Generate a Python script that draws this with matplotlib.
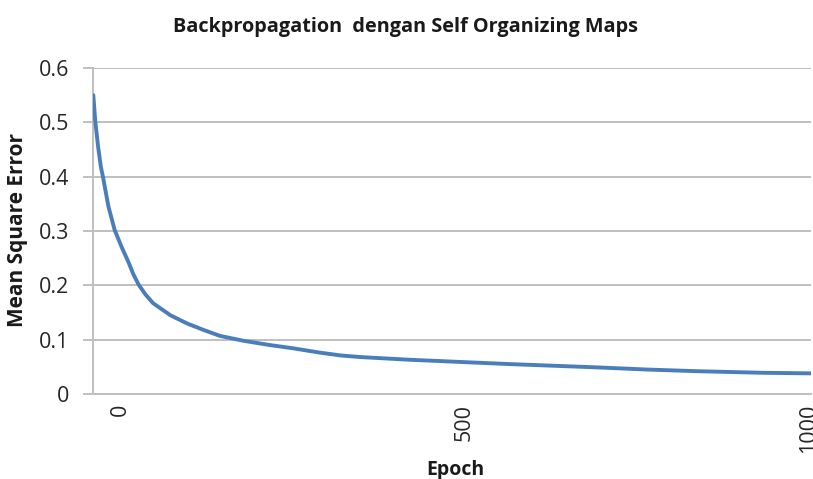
import matplotlib
matplotlib.use("Agg")
import matplotlib.pyplot as plt

plt.rcParams['font.family'] = ['Open Sans', 'DejaVu Sans']

epochs = [-39, -37, -36, -32, -28, -25, -17, -8, 2, 12, 19, 27, 37, 48, 73, 97,
          121, 145, 179, 218, 252, 291, 320, 349, 421, 494, 567, 693, 766,
          838, 935, 1004]
mse = [0.550, 0.517, 0.500, 0.455, 0.418, 0.400, 0.345, 0.302, 0.271, 0.243,
       0.221, 0.201, 0.183, 0.167, 0.145, 0.130, 0.118, 0.107, 0.098, 0.090,
       0.084, 0.076, 0.071, 0.068, 0.063, 0.059, 0.055, 0.049, 0.045, 0.042,
       0.039, 0.038]

x_ticks = [0, 500, 1000]
x_tick_labels = ["0", "500", "1000"]
y_ticks = [0, 0.1, 0.2, 0.3, 0.4, 0.5, 0.6]
y_tick_labels = ["0", "0.1", "0.2", "0.3", "0.4", "0.5", "0.6"]

title = "Backpropagation  dengan Self Organizing Maps"
xlabel = "Epoch"
ylabel = "Mean Square Error"

fig = plt.figure(figsize=(8.13, 4.79), dpi=100)
ax = fig.add_axes([93.3 / 813, 1 - 394 / 479, (811 - 93.3) / 813, (394 - 68) / 479])

ax.plot(epochs, mse, color="#4A7EBB", linewidth=2.8, solid_capstyle="round",
        solid_joinstyle="round", zorder=3)

ax.set_xlim(-39, 1004)
ax.set_ylim(0, 0.6)

ax.set_yticks(y_ticks)
ax.set_yticklabels(y_tick_labels)
ax.set_xticks(x_ticks)
ax.set_xticklabels(x_tick_labels, rotation=90)

grid_color = "#BFBFBF"
ax.yaxis.grid(True, color=grid_color, linewidth=1.4, zorder=0)
ax.xaxis.grid(False)
for side in ["top", "right"]:
    ax.spines[side].set_visible(False)
for side in ["left", "bottom"]:
    ax.spines[side].set_color(grid_color)
    ax.spines[side].set_linewidth(1.4)

ax.tick_params(axis="y", direction="out", length=7, width=1.4, color=grid_color,
               labelsize=15.5, labelcolor="#262626", pad=10.5)
ax.tick_params(axis="x", length=0, labelsize=15.5, labelcolor="#262626", pad=7)

fig.text(405 / 813, 1 - 27 / 479, title, fontsize=14.3, fontweight="bold",
         color="#1a1a1a", ha="center", va="center")
fig.text(455 / 813, 1 - 470 / 479, xlabel, fontsize=14, fontweight="bold",
         color="#1a1a1a", ha="center", va="center")
fig.text(18 / 813, 1 - 230 / 479, ylabel, fontsize=15, fontweight="bold",
         color="#1a1a1a", ha="center", va="center", rotation=90)

fig.savefig("out.png", dpi=100)
